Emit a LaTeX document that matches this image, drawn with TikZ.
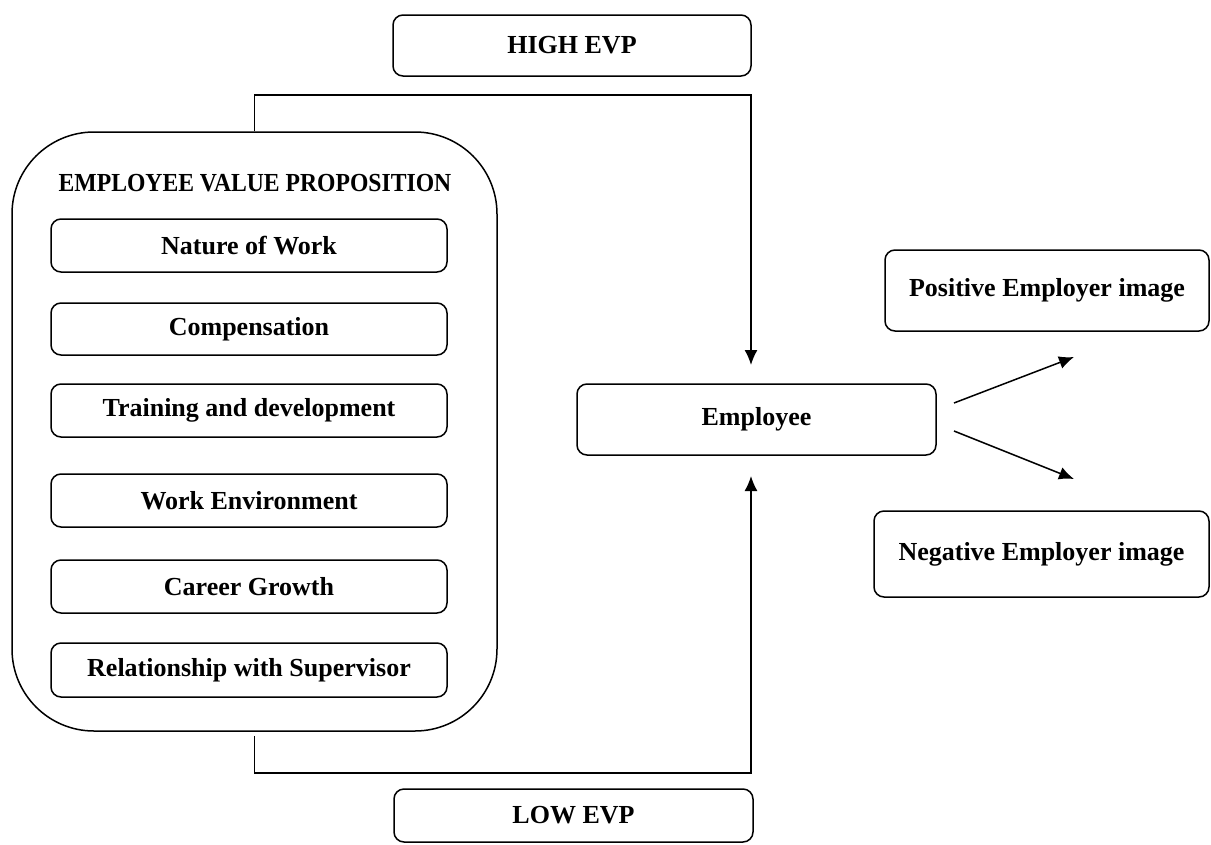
\documentclass[tikz,border=0pt]{standalone}
\usepackage{fontspec}
\setmainfont{Liberation Serif}
\usetikzlibrary{arrows.meta,calc}
\begin{document}
\begin{tikzpicture}[x=1pt,y=-1pt,
  box/.style={draw,line width=1.5pt,rounded corners=10pt,inner sep=0pt,
    font=\fontsize{26}{30}\selectfont\bfseries},
  lbl/.style={inner sep=0pt,font=\fontsize{26}{30}\selectfont\bfseries},
  conn/.style={line width=1.5pt},
  arr/.style={line width=1.5pt,-{Latex[length=15pt,width=13pt]}}]
\useasboundingbox (0,0) rectangle (1211,844);
% top and bottom boxes
\node[box,minimum width=358,minimum height=61] (high) at (572,45.5) {HIGH EVP};
\node[box,minimum width=359,minimum height=53] (low) at (573.5,815.5) {LOW EVP};
% big EVP box
\node[draw,line width=1.5pt,rounded corners=82pt,minimum width=485,minimum height=599,inner sep=0pt] (evp) at (254.5,431.5) {};
\node[lbl] (title) at (255,183) {\scalebox{0.91}[1]{EMPLOYEE VALUE PROPOSITION}};
\node[box,minimum width=396,minimum height=53] (nat) at (249,245.5) {Nature of Work};
\node[box,minimum width=396,minimum height=52] (comp) at (249,329) {Compensation};
\node[box,minimum width=396,minimum height=53] (train) at (249,410.5) {Training and development};
\node[box,minimum width=396,minimum height=53] (env) at (249,500.5) {Work Environment};
\node[box,minimum width=396,minimum height=53] (car) at (249,586.5) {Career Growth};
\node[box,minimum width=396,minimum height=54] (rel) at (249,670) {Relationship with Supervisor};
% employee and outcomes
\node[box,minimum width=359,minimum height=71] (emp) at (756.5,419.5) {Employee};
\node[box,minimum width=324,minimum height=81] (pos) at (1047,290.5) {Positive Employer image};
\node[box,minimum width=335,minimum height=86] (neg) at (1041.5,554) {Negative Employer image};
% connectors
\coordinate (tc) at (751,95);
\coordinate (tt) at (751,365);
\coordinate (bc) at (751,773);
\coordinate (bt) at (751,476);
\draw[arr] (evp.north) |- (tc) -- (tt);
\draw[arr] ([yshift=-4pt]evp.south) |- (bc) -- (bt);
\coordinate (u1) at (954,403);
\coordinate (u2) at (1074,357);
\coordinate (d1) at (954,431);
\coordinate (d2) at (1074,479);
\draw[arr] (u1) -- (u2);
\draw[arr] (d1) -- (d2);
\end{tikzpicture}
\end{document}
